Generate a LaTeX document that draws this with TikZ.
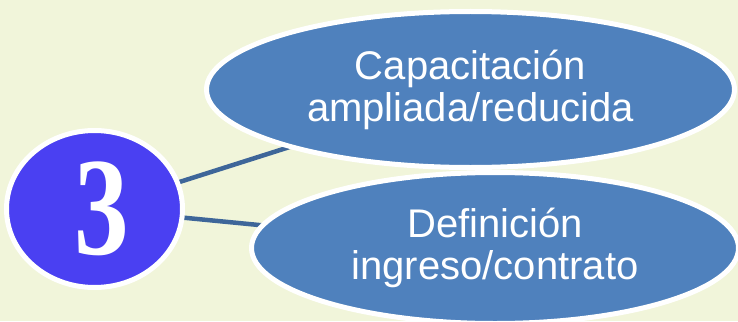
\documentclass[tikz,border=0pt]{standalone}
\usepackage{fontspec}
\setmainfont{Liberation Sans}
\newfontfamily\digitfont{Liberation Serif}
\usepackage{graphicx}
\usetikzlibrary{shapes.geometric}
\definecolor{bgcream}{HTML}{F1F5DA}
\definecolor{ovalblue}{HTML}{4F81BD}
\definecolor{numblue}{HTML}{4A40F2}
\definecolor{linkblue}{HTML}{3E6699}
\pgfdeclarelayer{back}
\pgfdeclarelayer{links}
\pgfsetlayers{back,links,main}

\begin{document}
\begin{tikzpicture}[
    x = 1pt, y = -1pt % pixel units, y going down
    ]

    \tikzset{oval/.style={
    ellipse,
    draw = white,
    line width = 5pt, % white border
    fill = ovalblue,
    text = white,
    inner sep = 0pt,
    align = center,
    font = \fontsize{40}{42}\selectfont
    }}
    \tikzset{link/.style={draw = linkblue, line width = 4.5pt}}

    \useasboundingbox (0,0) rectangle (738,321);
    \begin{pgfonlayer}{back}
    \fill[bgcream] (0,0) rectangle (738,321);
    \end{pgfonlayer}

    \node[ellipse, draw = white, line width = 5pt, fill = numblue, text = white, inner sep = 0pt,
      minimum width = 176pt, minimum height = 157pt] (num) at (94.5,209)
      {\hspace*{15pt}\scalebox{0.78}[1]{\digitfont\bfseries\fontsize{140}{140}\selectfont 3}};
    \node[oval, minimum width = 528pt, minimum height = 156pt] (cap) at (470.5,89.5)
      {Capacitación\\ampliada/reducida};
    \node[oval, minimum width = 487pt, minimum height = 151pt] (def) at (495,248)
      {Definición\\ingreso/contrato};

    \begin{pgfonlayer}{links}
    \draw[link] (num.center) -- (cap.center);
    \draw[link] (num.center) -- (def.center);
    \end{pgfonlayer}
\end{tikzpicture}
\end{document}
